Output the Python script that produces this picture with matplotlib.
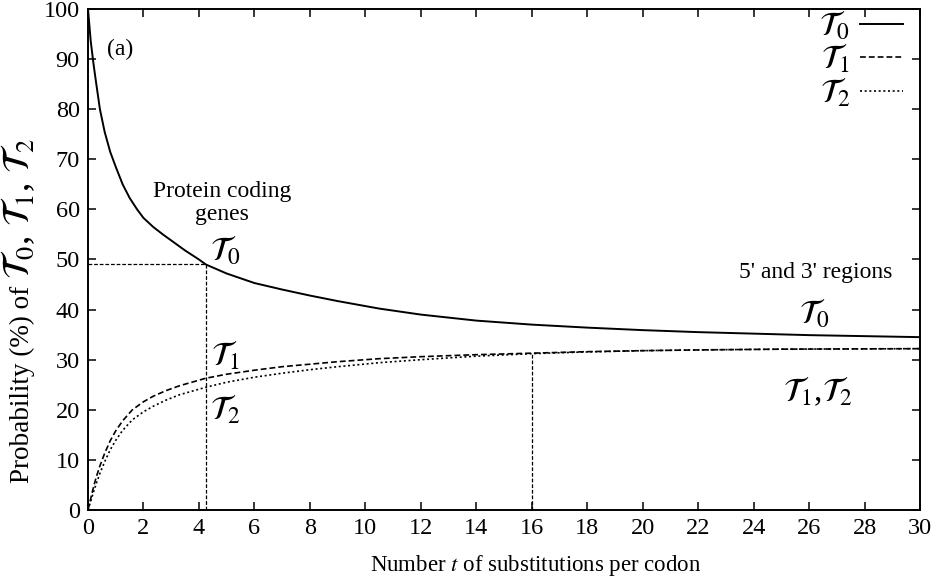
import numpy as np
import matplotlib
matplotlib.use('Agg')
import matplotlib.pyplot as plt

plt.rcParams['font.family'] = ['Liberation Serif', 'DejaVu Serif']
plt.rcParams['mathtext.fontset'] = 'stix'

# values
t0_x = [0, 0.1, 0.2, 0.3, 0.43, 0.6, 0.8, 1.0, 1.25, 1.5, 1.77, 2.0, 2.35, 2.7, 3.0,
        3.5, 4.0, 4.25, 5.0, 6.0, 7.0, 8.0, 9.0, 10.5, 12.0, 14.0, 16.0, 18.0, 20.0,
        22.0, 24.0, 26.0, 28.0, 30.0]
t0_y = [100, 93.5, 89.0, 85.0, 80.0, 75.5, 71.5, 68.5, 65.0, 62.3, 60.0, 58.3, 56.5,
        55.0, 53.8, 51.8, 50.0, 49.0, 47.2, 45.3, 44.0, 42.8, 41.7, 40.2, 39.0, 37.8,
        37.0, 36.4, 35.9, 35.5, 35.2, 34.9, 34.7, 34.5]

t1_x = [0, 0.1, 0.2, 0.3, 0.43, 0.6, 0.8, 1.0, 1.25, 1.6, 2.0, 2.35, 2.8, 3.3, 4.25,
        5.0, 6.0, 7.0, 8.0, 9.0, 10.5, 12.0, 14.0, 16.0, 18.0, 20.0, 22.0, 25.0, 30.0]
t1_y = [0, 2.3, 4.6, 6.6, 8.8, 11.3, 13.8, 15.8, 17.8, 20.0, 21.6, 22.7, 23.8, 24.8,
        26.3, 27.1, 27.9, 28.6, 29.1, 29.6, 30.2, 30.6, 31.0, 31.3, 31.6, 31.8, 31.95,
        32.1, 32.2]

t2_x = [0, 0.1, 0.2, 0.3, 0.43, 0.6, 0.8, 1.0, 1.25, 1.6, 2.0, 2.35, 2.8, 3.3, 4.25,
        5.0, 6.0, 7.0, 8.0, 9.0, 10.5, 12.0, 14.0, 16.0, 18.0, 20.0, 22.0, 25.0, 30.0]
t2_y = [0, 1.8, 3.6, 5.3, 7.3, 9.6, 12.0, 13.9, 15.9, 18.0, 19.6, 20.7, 21.9, 23.0,
        24.5, 25.5, 26.5, 27.3, 28.0, 28.6, 29.4, 30.0, 30.7, 31.2, 31.55, 31.8, 31.95,
        32.1, 32.2]

# guide lines
coding_t, coding_p = 4.25, 49.0
utr_t, utr_p = 16.0, 31.3

T0 = r'$\mathcal{T}_0$'
T1 = r'$\mathcal{T}_1$'
T2 = r'$\mathcal{T}_2$'

fig = plt.figure(figsize=(9.36, 5.86), dpi=100)
ax = fig.add_axes([0.094, 0.1297, 0.889, 0.855])

dash = (0, (3.5, 1.8))
dots = (0, (1.2, 1.6))
ax.plot(t0_x, t0_y, color='black', lw=1.4, ls='-', label=T0)
ax.plot(t1_x, t1_y, color='black', lw=1.2, ls=dash, label=T1)
ax.plot(t2_x, t2_y, color='black', lw=1.2, ls=dots, label=T2)

ax.plot([0, coding_t], [coding_p, coding_p], color='black', lw=0.9, ls=(0, (3, 1.5)))
ax.plot([coding_t, coding_t], [0, coding_p], color='black', lw=0.9, ls=(0, (3, 1.5)))
ax.plot([utr_t, utr_t], [0, utr_p], color='black', lw=0.9, ls=(0, (3, 1.5)))

ax.set_xlim(0, 30)
ax.set_ylim(0, 100)
ax.set_xticks(np.arange(0, 31, 2))
ax.set_yticks(np.arange(0, 101, 10))
ax.tick_params(direction='in', top=True, right=True, length=6, width=1.1,
               labelsize=17.5, pad=6)
for s in ax.spines.values():
    s.set_linewidth(1.4)

ax.set_xlabel(r'Number $t$ of substitutions per codon', fontsize=16.5)
ax.xaxis.set_label_coords(0.538, -0.086)

# y label: plain text, then larger calligraphic symbols on the same baseline
fig.canvas.draw()
rend = fig.canvas.get_renderer()
yl1 = fig.text(0.031, 1 - 483 / 586, 'Probability (%) of ', rotation=90, fontsize=19.5,
               rotation_mode='anchor', ha='left', va='baseline')
h = yl1.get_window_extent(rend).height / fig.bbox.height
fig.text(0.031, 1 - 483 / 586 + h, T0 + ', ' + T1 + ', ' + T2, rotation=90, fontsize=27,
         rotation_mode='anchor', ha='left', va='baseline')

fs = 17
ms = 24
ax.text(1.15, 92, '(a)', fontsize=fs, ha='center', va='center')
ax.text(4.83, 63.5, 'Protein coding', fontsize=fs, ha='center', va='center')
ax.text(4.83, 59.0, 'genes', fontsize=fs, ha='center', va='center')
ax.text(4.95, 51.7, T0, fontsize=ms, ha='center', va='center')
ax.text(4.95, 30.7, T1, fontsize=ms, ha='center', va='center')
ax.text(4.95, 20.0, T2, fontsize=ms, ha='center', va='center')
ax.text(26.24, 47.4, "5' and 3' regions", fontsize=fs, ha='center', va='center')
ax.text(26.2, 39.1, T0, fontsize=ms, ha='center', va='center')
ax.text(26.3, 23.7, T1 + ',' + T2, fontsize=ms, ha='center', va='center')

ax.legend(loc='upper right', bbox_to_anchor=(0.98, 1.0), frameon=False,
          markerfirst=False, fontsize=ms, handlelength=1.3, handletextpad=0.3,
          labelspacing=0.0, borderaxespad=0.0, borderpad=0.0)

fig.savefig('out.png', dpi=100)
